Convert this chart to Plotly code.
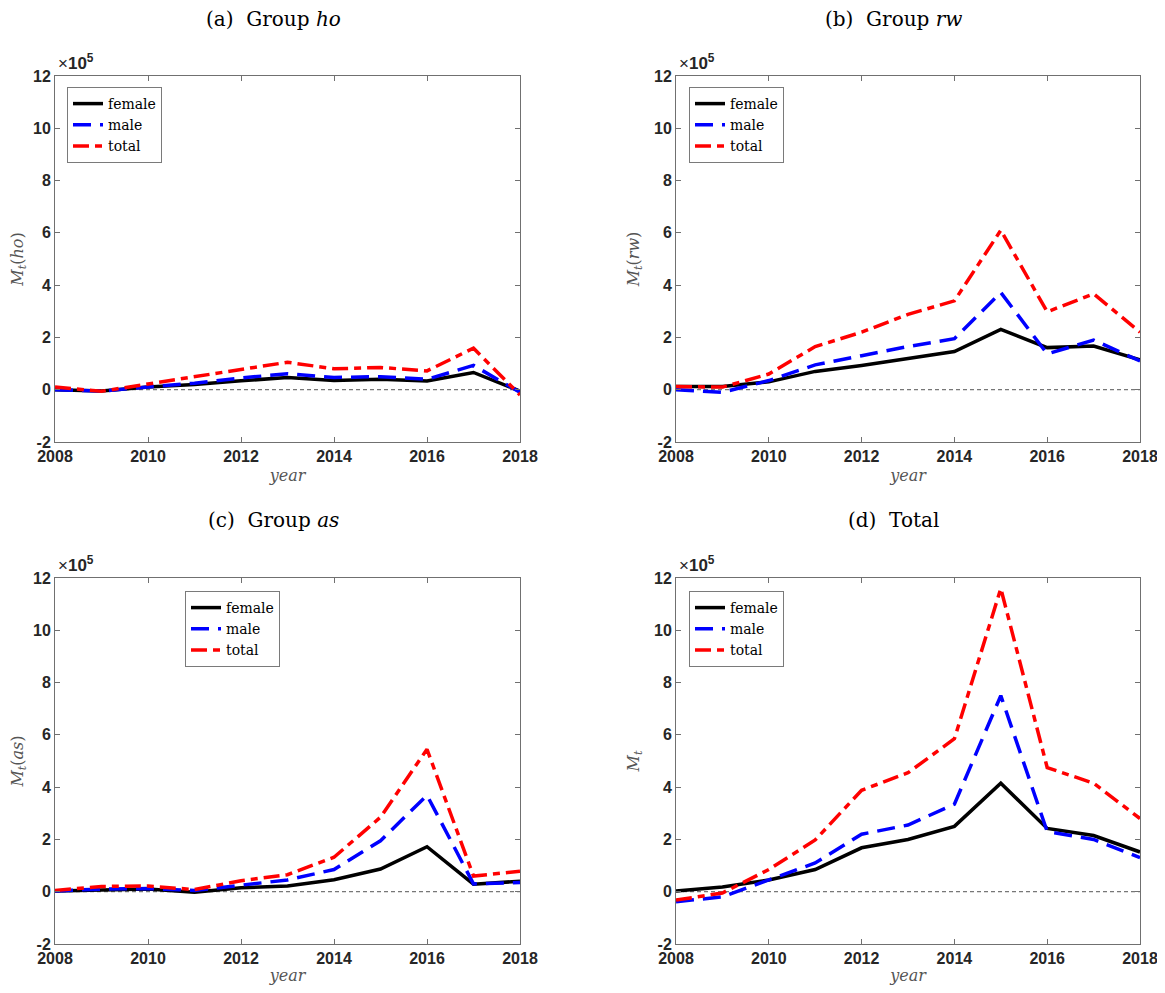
import plotly.graph_objects as go

years = [2008, 2009, 2010, 2011, 2012, 2013, 2014, 2015, 2016, 2017, 2018]

# values in units of 10^5
ho_female = [0.00, -0.05, 0.10, 0.20, 0.34, 0.47, 0.35, 0.40, 0.33, 0.66, -0.05]
ho_male   = [0.00, -0.05, 0.10, 0.25, 0.45, 0.61, 0.47, 0.50, 0.40, 0.93, -0.10]
ho_total  = [0.10, -0.06, 0.22, 0.50, 0.79, 1.05, 0.80, 0.85, 0.72, 1.59, -0.20]

rw_female = [0.12, 0.12, 0.30, 0.70, 0.93, 1.20, 1.46, 2.31, 1.61, 1.67, 1.14]
rw_male   = [0.00, -0.10, 0.35, 0.95, 1.30, 1.65, 1.95, 3.72, 1.37, 1.90, 1.10]
rw_total  = [0.12, 0.10, 0.60, 1.65, 2.20, 2.88, 3.40, 6.10, 2.98, 3.67, 2.20]

as_female = [0.03, 0.08, 0.10, -0.02, 0.15, 0.22, 0.46, 0.87, 1.72, 0.29, 0.40]
as_male   = [0.03, 0.10, 0.12, 0.05, 0.25, 0.45, 0.85, 1.95, 3.69, 0.30, 0.35]
as_total  = [0.05, 0.20, 0.22, 0.08, 0.42, 0.65, 1.32, 2.85, 5.45, 0.60, 0.78]

tot_female = [0.03, 0.18, 0.45, 0.85, 1.68, 2.00, 2.50, 4.15, 2.42, 2.15, 1.52]
tot_male   = [-0.38, -0.20, 0.45, 1.10, 2.20, 2.55, 3.35, 7.50, 2.30, 2.00, 1.30]
tot_total  = [-0.32, -0.05, 0.85, 1.98, 3.88, 4.55, 5.85, 11.60, 4.75, 4.15, 2.80]

x_ticks = [2008, 2010, 2012, 2014, 2016, 2018]
y_ticks = [-2, 0, 2, 4, 6, 8, 10, 12]
y_tick_labels = ["-2", "0", "2", "4", "6", "8", "10", "12"]

panels = [
    ("(a)  Group <i>ho</i>", "<i>M<sub>t</sub></i>(<i>ho</i>)", ho_female, ho_male, ho_total),
    ("(b)  Group <i>rw</i>", "<i>M<sub>t</sub></i>(<i>rw</i>)", rw_female, rw_male, rw_total),
    ("(c)  Group <i>as</i>", "<i>M<sub>t</sub></i>(<i>as</i>)", as_female, as_male, as_total),
    ("(d)  Total", "<i>M<sub>t</sub></i>", tot_female, tot_male, tot_total),
]

# page body has an 8px margin; work in screenshot pixels and shift
OFF = 8
W, H = 1165 - 2 * OFF, 993 - 2 * OFF
# axes pixel boxes in screenshot coords: (left, right, top, bottom)
boxes = [(55, 520, 76, 442), (676, 1140, 76, 442), (55, 520, 578, 944), (676, 1140, 578, 944)]
title_cx = [273, 893, 273, 893]
title_y = [19, 19, 520, 520]
legend_pos = [(67, 87), (689, 87), (185, 591), (689, 591)]


def px(xp):
    return (xp - OFF) / W


def py(yp):
    return 1 - (yp - OFF) / H


fig = go.Figure()
SERIF = "DejaVu Serif, Liberation Serif, serif"
SANS = "Liberation Sans, Arial, sans-serif"
axis_col = "#707070"
tick_col = "#262626"

for i, (title, ylab, f, m, t) in enumerate(panels):
    n = "" if i == 0 else str(i + 1)
    xa, ya = "x" + n, "y" + n
    lg = "legend" + n
    L, R, T, B = boxes[i]
    # zero reference line
    fig.add_trace(go.Scatter(x=[years[0], years[-1]], y=[0, 0], mode="lines",
                             line=dict(color="#555555", width=1, dash="4px,3px"),
                             showlegend=False, xaxis=xa, yaxis=ya, hoverinfo="skip"))
    fig.add_trace(go.Scatter(x=years, y=f, mode="lines", name="female",
                             line=dict(color="black", width=3.5), xaxis=xa, yaxis=ya, legend=lg))
    fig.add_trace(go.Scatter(x=years, y=m, mode="lines", name="male",
                             line=dict(color="#0000ff", width=3.5, dash="18px,9px"), xaxis=xa, yaxis=ya, legend=lg))
    fig.add_trace(go.Scatter(x=years, y=t, mode="lines", name="total",
                             line=dict(color="#ff0000", width=3.5, dash="16px,6px,7px,6px"), xaxis=xa, yaxis=ya, legend=lg))

    common = dict(showline=True, linecolor=axis_col, linewidth=1, mirror="ticks",
                  ticks="inside", ticklen=5, tickcolor=axis_col, showgrid=False, zeroline=False,
                  automargin=False, ticklabeloverflow="allow",
                  tickfont=dict(family=SANS, size=16, color=tick_col, weight="bold"),
                  title_font=dict(family=SERIF, size=16, color="#555555"))
    fig.layout["xaxis" + n] = dict(domain=[px(L), px(R)], range=[2008, 2018], tickvals=x_ticks,
                                   anchor=ya, title=dict(text="<i>year</i>", standoff=5), **common)
    fig.layout["yaxis" + n] = dict(domain=[py(B), py(T)], range=[-2, 12], tickvals=y_ticks,
                                   ticktext=y_tick_labels,
                                   anchor=xa, title=dict(text=ylab, standoff=10), **common)
    lx, ly = legend_pos[i]
    fig.layout[lg] = dict(x=px(lx), y=py(ly), xanchor="left", yanchor="top",
                          bgcolor="white", bordercolor="#7a7a7a", borderwidth=1,
                          font=dict(family=SERIF, size=14, color="black"),
                          tracegroupgap=0, itemwidth=30)
    fig.add_annotation(text=title, x=px(title_cx[i]), y=py(title_y[i]), xref="paper", yref="paper",
                       xanchor="center", yanchor="middle",
                       showarrow=False, font=dict(family=SERIF, size=20, color="black"))
    fig.add_annotation(text="×<b>10<sup>5</sup></b>", x=px(L + 1), y=py(T - 1),
                       xref="paper", yref="paper", xanchor="left", yanchor="bottom", showarrow=False,
                       font=dict(family=SANS, size=17, color=tick_col))

fig.update_layout(width=W, height=H, margin=dict(l=0, r=0, t=0, b=0, autoexpand=False),
                  plot_bgcolor="white", paper_bgcolor="white")

fig.write_html("out.html")
